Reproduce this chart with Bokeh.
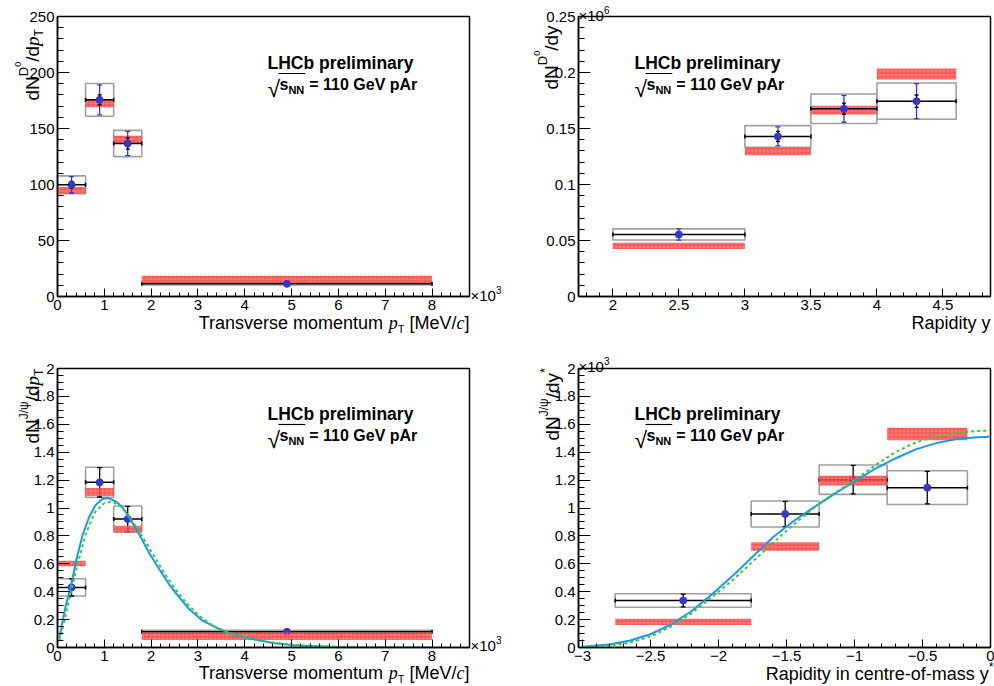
import numpy as np
from bokeh.plotting import figure
from bokeh.models import Range1d, FixedTicker, Label, GridBox
from bokeh.layouts import column, row
from bokeh.embed import file_html
from bokeh.resources import INLINE

# ---------------- data ----------------
# D0 yield vs pT (pT in units of 10^3 MeV/c)
d0pt_lo = [0.0, 0.6, 1.2, 1.8]
d0pt_hi = [0.6, 1.2, 1.8, 8.0]
d0pt_x = [0.3, 0.9, 1.5, 4.9]
d0pt_val = [99.7, 175.6, 136.6, 11.3]
d0pt_stat = [3.0, 4.5, 5.0, 0.5]
d0pt_tot = [7.3, 13.4, 10.8, 0.8]
d0pt_syst = [8.0, 14.6, 11.7, 1.0]
d0pt_mod_c = [94.8, 172.3, 140.0, 14.9]
d0pt_mod_e = [2.9, 3.3, 3.5, 3.6]

# D0 yield vs rapidity (units of 10^6)
d0y_lo = [2.0, 3.0, 3.5, 4.0]
d0y_hi = [3.0, 3.5, 4.0, 4.6]
d0y_x = [2.5, 3.25, 3.75, 4.3]
d0y_val = [0.0554, 0.1429, 0.1676, 0.1744]
d0y_stat = [0.002, 0.0045, 0.005, 0.0055]
d0y_tot = [0.005, 0.0085, 0.012, 0.0156]
d0y_syst = [0.005, 0.0097, 0.0132, 0.0162]
d0y_mod_c = [0.0451, 0.1296, 0.1664, 0.1987]
d0y_mod_e = [0.0028, 0.0034, 0.0039, 0.0049]

# J/psi yield vs pT (pT in units of 10^3 MeV/c)
jpt_lo = [0.0, 0.6, 1.2, 1.8]
jpt_hi = [0.6, 1.2, 1.8, 8.0]
jpt_x = [0.3, 0.9, 1.5, 4.9]
jpt_val = [0.431, 1.184, 0.921, 0.113]
jpt_stat = [0.062, 0.105, 0.09, 0.004]
jpt_syst = [0.062, 0.108, 0.093, 0.011]
jpt_mod_c = [0.602, 1.115, 0.849, 0.081]
jpt_mod_e = [0.02, 0.029, 0.024, 0.027]
jpt_fit_x = [0.04, 0.17, 0.30, 0.39, 0.53, 0.67, 0.81, 0.96, 1.08, 1.24, 1.39, 1.53, 1.74,
             1.95, 2.17, 2.38, 2.60, 2.81, 3.10, 3.38, 3.66, 3.95, 4.25, 4.60, 5.10, 5.80,
             6.50, 7.20, 8.00]
jpt_fit_y = [0.07, 0.29, 0.46, 0.61, 0.80, 0.93, 1.02, 1.065, 1.072, 1.048, 1.005, 0.933, 0.814,
             0.682, 0.563, 0.455, 0.359, 0.276, 0.192, 0.144, 0.105, 0.078, 0.055, 0.032, 0.014,
             0.005, 0.002, 0.001, 0.0]
jpt_alt_x = [0.05, 0.2, 0.4, 0.6, 0.8, 1.0, 1.15, 1.3, 1.5, 1.75, 2.0, 2.25, 2.5, 2.75, 3.0,
             3.3, 3.6, 4.0, 4.5, 5.0, 5.5, 6.0, 7.0, 8.0]
jpt_alt_y = [0.05, 0.27, 0.56, 0.81, 0.97, 1.035, 1.045, 1.025, 0.955, 0.83, 0.69, 0.55, 0.425,
             0.32, 0.235, 0.16, 0.112, 0.07, 0.038, 0.02, 0.011, 0.006, 0.002, 0.0]

# J/psi yield vs centre-of-mass rapidity (units of 10^3)
jy_lo = [-2.76, -1.76, -1.26, -0.76]
jy_hi = [-1.76, -1.26, -0.76, -0.17]
jy_x = [-2.26, -1.51, -1.01, -0.465]
jy_val = [0.337, 0.957, 1.203, 1.146]
jy_stat = [0.046, 0.09, 0.102, 0.117]
jy_syst = [0.048, 0.093, 0.105, 0.121]
jy_mod_c = [0.184, 0.724, 1.197, 1.531]
jy_mod_e = [0.022, 0.03, 0.035, 0.045]
jy_curve_x = [-3.0, -2.8, -2.65, -2.5, -2.35, -2.2, -2.05, -1.9, -1.75, -1.6, -1.45, -1.3,
              -1.15, -1.0, -0.85, -0.7, -0.55, -0.4, -0.25, -0.1, 0.0]
jy_fit_y = [0.005, 0.022, 0.05, 0.095, 0.165, 0.26, 0.38, 0.51, 0.65, 0.79, 0.905, 1.005,
            1.10, 1.19, 1.28, 1.355, 1.42, 1.465, 1.495, 1.507, 1.51]
jy_alt_y = [0.0, 0.012, 0.036, 0.078, 0.15, 0.245, 0.36, 0.48, 0.615, 0.75, 0.88, 1.0,
            1.105, 1.20, 1.305, 1.40, 1.47, 1.515, 1.54, 1.552, 1.555]

# tick labels
pt_ticks = [0, 1, 2, 3, 4, 5, 6, 7, 8]
pt_labels = ["0", "1", "2", "3", "4", "5", "6", "7", "8"]
d0pt_yticks = [0, 50, 100, 150, 200, 250]
d0pt_ylabels = ["0", "50", "100", "150", "200", "250"]
y_ticks = [2, 2.5, 3, 3.5, 4, 4.5]
y_labels = ["2", "2.5", "3", "3.5", "4", "4.5"]
d0y_yticks = [0, 0.05, 0.1, 0.15, 0.2, 0.25]
d0y_ylabels = ["0", "0.05", "0.1", "0.15", "0.2", "0.25"]
j_yticks = [0, 0.2, 0.4, 0.6, 0.8, 1, 1.2, 1.4, 1.6, 1.8, 2]
j_ylabels = ["0", "0.2", "0.4", "0.6", "0.8", "1", "1.2", "1.4", "1.6", "1.8", "2"]
ys_ticks = [-3, -2.5, -2, -1.5, -1, -0.5, 0]
ys_labels = ["\u22123", "\u22122.5", "\u22122", "\u22121.5", "\u22121", "\u22120.5", "0"]

# ---------------- styling helpers ----------------
SANS = "Liberation Sans"
SERIF = "Liberation Serif"
W_REG = {' ': 278, '*': 389, '-': 333, '.': 278, '/': 278, '=': 584, '[': 278, ']': 278,
         'A': 667, 'C': 722, 'D': 722, 'G': 778, 'H': 722, 'J': 500, 'L': 556, 'M': 833,
         'N': 722, 'R': 722, 'T': 611, 'V': 667, 'a': 556, 'b': 556, 'c': 500, 'd': 556,
         'e': 556, 'f': 278, 'h': 556, 'i': 222, 'l': 222, 'm': 833, 'n': 556, 'o': 556,
         'p': 556, 'r': 333, 's': 500, 't': 278, 'u': 556, 'v': 500, 'y': 500,
         '\u03c8': 712, '\u00d7': 584, '\u221a': 549}
W_BOLD = {' ': 278, '=': 584, 'A': 722, 'C': 722, 'G': 778, 'H': 722, 'L': 611, 'N': 722,
          'V': 667, 'a': 556, 'b': 611, 'e': 556, 'i': 278, 'l': 278, 'm': 889, 'n': 611,
          'p': 611, 'r': 389, 's': 556, 'y': 556}
W_IT = {'p': 500, 'c': 444, ' ': 250}


def text_width(t, style, size):
    tab = {'r': W_REG, 'b': W_BOLD, 'i': W_IT}[style]
    return sum(tab.get(ch, 556) for ch in t) * size / 1000.0


def make_fig(w, h, bl, br, bt, bb, xr, yr, xmaj, xmin, xlab, ymaj, ymin, ylab):
    p = figure(width=w, height=h, x_range=Range1d(*xr), y_range=Range1d(*yr),
               output_backend="svg", toolbar_location=None,
               min_border_left=bl, min_border_right=br, min_border_top=bt, min_border_bottom=bb)
    p.xgrid.visible = False
    p.ygrid.visible = False
    p.outline_line_color = "black"
    p.outline_line_width = 1.5
    for ax, maj, mn, lab, tin, mtin in ((p.xaxis[0], xmaj, xmin, xlab, 8, 4),
                                        (p.yaxis[0], ymaj, ymin, ylab, 12, 6)):
        ax.ticker = FixedTicker(ticks=maj, minor_ticks=mn)
        ax.major_label_overrides = dict(zip(maj, lab))
        ax.major_tick_in = tin
        ax.major_tick_out = 0
        ax.minor_tick_in = mtin
        ax.minor_tick_out = 0
        ax.major_tick_line_color = "black"
        ax.minor_tick_line_color = "black"
        ax.axis_line_color = "black"
        ax.axis_line_width = 1.5
        ax.major_label_text_font = SANS
        ax.major_label_text_font_size = "15px"
        ax.major_label_text_color = "black"
        ax.major_label_standoff = 3
    return p


def minor(a, b, step):
    return np.round(np.arange(a, b + step / 2, step), 4).tolist()


BLUE_PT = "#3535d0"
GRAY = "#a0a0a0"
RED = "#ff2a2a"


def draw_data(p, lo, hi, xc, val, err, syst, mc, me, err_color, stat=None, red_on_top=False):
    p.quad(left=lo, right=hi, bottom=[v - s for v, s in zip(val, syst)],
           top=[v + s for v, s in zip(val, syst)], fill_color=None, line_color=GRAY, line_width=1.6)

    def red():
        p.quad(left=lo, right=hi, bottom=[c - e for c, e in zip(mc, me)],
               top=[c + e for c, e in zip(mc, me)], fill_color=RED, fill_alpha=0.8,
               line_color=None, hatch_pattern="cross", hatch_color="white",
               hatch_alpha=0.2, hatch_scale=4, hatch_weight=1)

    if not red_on_top:
        red()
    p.segment(x0=lo, x1=hi, y0=val, y1=val, line_color="black", line_width=1.5)
    p.scatter(x=lo + hi, y=val + val, marker="dash", angle=np.pi / 2, size=4,
              line_color="black", line_width=1.5)
    p.segment(x0=xc, x1=xc, y0=[v - e for v, e in zip(val, err)],
              y1=[v + e for v, e in zip(val, err)], line_color=err_color, line_width=1.3)
    p.scatter(x=xc + xc, y=[v - e for v, e in zip(val, err)] + [v + e for v, e in zip(val, err)],
              marker="dash", size=5, line_color=err_color, line_width=1.3)
    if stat is not None:
        p.segment(x0=xc, x1=xc, y0=[v - e for v, e in zip(val, stat)],
                  y1=[v + e for v, e in zip(val, stat)], line_color="black", line_width=1.3)
        p.scatter(x=xc + xc, y=[v - e for v, e in zip(val, stat)] + [v + e for v, e in zip(val, stat)],
                  marker="dash", size=4, line_color="black", line_width=1.3)
    p.scatter(x=xc, y=val, size=7, fill_color=BLUE_PT, line_color=BLUE_PT)
    if red_on_top:
        red()


# ---------------- panels (page = canvas coordinates, origin top-left) ----------------
A = make_fig(497, 340, 57, 28, 16, 44, (0, 8.8), (0, 250),
             pt_ticks, minor(0, 8.8, 0.2), pt_labels, d0pt_yticks, minor(0, 250, 10), d0pt_ylabels)
B = make_fig(497, 340, 81, 4, 16, 44, (1.74, 4.86), (0, 0.25),
             y_ticks, minor(1.8, 4.8, 0.1), y_labels, d0y_yticks, minor(0, 0.25, 0.01), d0y_ylabels)
C = make_fig(497, 346, 57, 28, 28, 39, (0, 8.8), (0, 2),
             pt_ticks, minor(0, 8.8, 0.2), pt_labels, j_yticks, minor(0, 2, 0.05), j_ylabels)
D = make_fig(497, 346, 81, 4, 28, 39, (-3.03, 0), (0, 2),
             ys_ticks, minor(-3, 0, 0.1), ys_labels, j_yticks, minor(0, 2, 0.05), j_ylabels)

draw_data(A, d0pt_lo, d0pt_hi, d0pt_x, d0pt_val, d0pt_tot, d0pt_syst, d0pt_mod_c, d0pt_mod_e,
          BLUE_PT, stat=d0pt_stat)
draw_data(B, d0y_lo, d0y_hi, d0y_x, d0y_val, d0y_tot, d0y_syst, d0y_mod_c, d0y_mod_e,
          BLUE_PT, stat=d0y_stat)
draw_data(C, jpt_lo, jpt_hi, jpt_x, jpt_val, jpt_stat, jpt_syst, jpt_mod_c, jpt_mod_e,
          "black", red_on_top=True)
draw_data(D, jy_lo, jy_hi, jy_x, jy_val, jy_stat, jy_syst, jy_mod_c, jy_mod_e,
          "black", red_on_top=True)

CURVE_BLUE = "#1a98f0"
CURVE_GREEN = "#33cc33"
C.line(jpt_fit_x, jpt_fit_y, line_color=CURVE_BLUE, line_width=2)
C.line(jpt_alt_x, jpt_alt_y, line_color=CURVE_GREEN, line_width=2, line_dash="3 3")
D.line(jy_curve_x, jy_fit_y, line_color=CURVE_BLUE, line_width=2)
D.line(jy_curve_x, jy_alt_y, line_color=CURVE_GREEN, line_width=2, line_dash="3 3")

# ---------------- transparent text overlay covering the whole page ----------------
T = figure(width=994, height=686, x_range=Range1d(0, 994), y_range=Range1d(686, 0),
           output_backend="svg", toolbar_location=None, min_border=0,
           x_axis_type=None, y_axis_type=None)
T.grid.visible = False
T.outline_line_color = None
T.background_fill_alpha = 0
T.border_fill_alpha = 0


def rich(pieces, x, y, vertical=False, align="left"):
    """pieces: (text, size, style, shift_up); x, y: page coords of baseline start."""
    total = sum(text_width(t, st, sz) for t, sz, st, sh in pieces)
    off = -total if align == "right" else 0.0
    for t, sz, st, sh in pieces:
        fam = SERIF if st == 'i' else SANS
        fstyle = {'r': 'normal', 'b': 'bold', 'i': 'italic'}[st]
        lead = len(t) - len(t.lstrip(' '))
        shown = t.strip(' ')
        o = off + text_width(' ' * lead, st, sz)
        if vertical:
            px, py, ang = x - sh, y - o, np.pi / 2
        else:
            px, py, ang = x + o, y - sh, 0.0
        if shown:
            T.add_layout(Label(x=px, y=py, text=shown, text_font=fam, text_font_style=fstyle,
                               text_font_size=f"{sz}px", text_color="black", angle=ang,
                               text_align="left", text_baseline="alphabetic"))
        off += text_width(t, st, sz)
    return off


def lhcb_text(x, y):
    rich([("LHCb preliminary", 17.5, 'b', 0)], x, y)
    rich([("\u221a", 23, 'r', -4)], x, y + 22)
    sx = x + 12
    rich([("s", 16, 'b', 0), ("NN", 11, 'b', -5)], sx, y + 22)
    w = text_width("s", 'b', 16) + text_width("NN", 'b', 11)
    rich([("= 110 GeV pAr", 16, 'b', 0)], sx + w + 5, y + 22)
    T.segment(x0=[x + 11], x1=[sx + w + 1], y0=[y + 11], y1=[y + 11],
              line_color="black", line_width=1.2)


lhcb_text(267, 62)
lhcb_text(634, 62)
lhcb_text(267, 413)
lhcb_text(634, 413)

# x-axis titles
pt_title = [("Transverse momentum ", 18, 'r', 0), ("p", 18, 'i', 0), ("T", 11, 'r', -6),
            (" [MeV/", 18, 'r', 0), ("c", 18, 'i', 0), ("]", 18, 'r', 0)]
rich(pt_title, 469, 322, align="right")
rich(pt_title, 469, 672, align="right")
rich([("Rapidity y", 18, 'r', 0)], 990, 322, align="right")
rich([("Rapidity in centre-of-mass y", 18, 'r', 0), ("*", 12, 'r', 7)], 993, 673, align="right")

# y-axis titles (vertical, reading upwards)
rich([("dN", 19, 'r', 0), ("D", 13, 'r', 9), ("0", 9, 'r', 15), ("/d", 19, 'r', 0),
      ("p", 19, 'i', 0), ("T", 12, 'r', -6)], 32, 100, vertical=True)
rich([("dN", 19, 'r', 0), ("D", 13, 'r', 9), ("0", 9, 'r', 15), ("/dy", 19, 'r', 0)],
     551, 89, vertical=True)
rich([("dN", 19, 'r', 0), ("J/\u03c8", 12, 'r', 9), ("/d", 19, 'r', 0),
      ("p", 19, 'i', 0), ("T", 12, 'r', -6)], 32, 443, vertical=True)
rich([("dN", 19, 'r', 0), ("J/\u03c8", 12, 'r', 9), ("/dy", 19, 'r', 0), ("*", 13, 'r', 8)],
     552, 440, vertical=True)

# exponent labels
rich([("\u00d710", 15, 'r', 0), ("3", 10, 'r', 6)], 470, 295)
rich([("\u00d710", 15, 'r', 0), ("3", 10, 'r', 6)], 470, 645)
rich([("\u00d710", 15, 'r', 0), ("6", 10, 'r', 6)], 578, 15)
rich([("\u00d710", 15, 'r', 0), ("3", 10, 'r', 6)], 578, 366)

panels = column(row(A, B), row(C, D))
layout = GridBox(children=[(panels, 0, 0), (T, 0, 0)])
open("out.html", "w").write(file_html(layout, INLINE))
